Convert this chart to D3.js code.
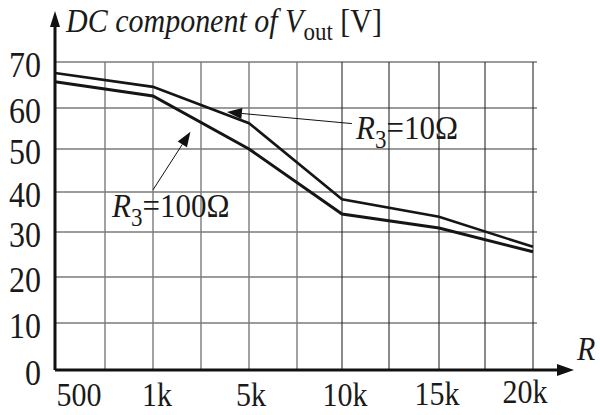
<!DOCTYPE html>
<html>
<head>
  <meta charset="utf-8">
  <script src="https://d3js.org/d3.v7.min.js"></script>
  <style>
    body { margin: 0; background: #fff; }
  </style>
</head>
<body>
  <svg width="600" height="415"></svg>

  <script>
    // x categories (resistance R) and their position on the grid (grid column index)
    var categories = ["500", "1k", "5k", "10k", "15k", "20k"];
    var catPos = [0, 2, 4, 6, 8, 10];

    // DC component of Vout [V]
    var r10 = [67.6, 64.6, 56.3, 38.2, 33.8, 26.7];   // R3 = 10 ohm
    var r100 = [65.7, 62.6, 50.0, 34.5, 31.0, 25.6];  // R3 = 100 ohm

    var yTicks = [0, 10, 20, 30, 40, 50, 60, 70];
    var gridCols = d3.range(0, 11);

    var svg = d3.select("svg");
    var stretch = 1.12; // the source font is a bit taller than wide
    var serif = "'Liberation Serif', 'Times New Roman', Times, 'DejaVu Serif', serif";

    // the hand drawn grid is not quite even, so the scales are piecewise
    var x = d3.scaleLinear()
      .domain(gridCols)
      .range([55, 105, 153, 201, 249, 297, 342, 389, 439, 485, 533]);
    var y = d3.scaleLinear()
      .domain(yTicks)
      .range([370, 323, 277, 232, 192, 149, 108, 62]);

    function stext(px, py, size) {
      return svg.append("text")
        .attr("transform", "translate(" + px + "," + py + ") scale(1," + stretch + ")")
        .attr("font-family", serif)
        .attr("fill", "#1a1a1a")
        .attr("font-size", size);
    }

    // grid
    svg.append("g").selectAll("line")
      .data(yTicks.slice(1))
      .enter().append("line")
      .attr("x1", x(0)).attr("x2", 537)
      .attr("y1", d => y(d)).attr("y2", d => y(d))
      .attr("stroke", "#7a7a7a").attr("stroke-width", 1.4);

    svg.append("g").selectAll("line")
      .data(gridCols.slice(1))
      .enter().append("line")
      .attr("x1", d => x(d)).attr("x2", d => x(d))
      .attr("y1", y(70)).attr("y2", y(0))
      .attr("stroke", d => d >= 6 ? "#2a2a2a" : "#7a7a7a")
      .attr("stroke-width", d => d >= 6 ? 1.1 : 1.4);

    // axes with arrows
    svg.append("line")
      .attr("x1", x(0)).attr("y1", y(0)).attr("x2", x(0)).attr("y2", 24)
      .attr("stroke", "#111").attr("stroke-width", 3);
    svg.append("path")
      .attr("d", "M" + x(0) + ",11 L" + (x(0) - 5) + ",27 L" + (x(0) + 5) + ",27 Z")
      .attr("fill", "#111");

    svg.append("line")
      .attr("x1", x(0)).attr("y1", y(0)).attr("x2", 560).attr("y2", y(0))
      .attr("stroke", "#111").attr("stroke-width", 3);
    svg.append("path")
      .attr("d", "M574," + y(0) + " L557," + (y(0) - 6) + " L557," + (y(0) + 6) + " Z")
      .attr("fill", "#111");

    // y tick labels
    yTicks.forEach(function(t) {
      stext(41, y(t) + 15, 32).attr("text-anchor", "end").text(t);
    });

    // x tick labels
    var labelShift = [24, 4, 2, 3, -2, -8];
    var labelDrop = [0, 0, 0, 0, -1, -3];
    categories.forEach(function(c, i) {
      stext(x(catPos[i]) + labelShift[i], 406 + labelDrop[i], 30).attr("text-anchor", "middle").text(c);
    });

    // axis titles
    stext(577, 360, 30).attr("font-style", "italic").text("R");

    var title = stext(66, 32, 30);
    title.append("tspan").attr("font-style", "italic").text("DC component of ");
    title.append("tspan").attr("font-style", "italic").text("V");
    title.append("tspan").attr("dy", 7).attr("font-size", 23).text("out");
    title.append("tspan").attr("dy", -7).text(" [V]");

    // curves
    var line = d3.line()
      .x((d, i) => x(catPos[i]))
      .y(d => y(d));

    svg.append("path")
      .datum(r10)
      .attr("d", line)
      .attr("fill", "none")
      .attr("stroke", "#151515")
      .attr("stroke-width", 2.6)
      .attr("stroke-linejoin", "miter");

    svg.append("path")
      .datum(r100)
      .attr("d", line)
      .attr("fill", "none")
      .attr("stroke", "#151515")
      .attr("stroke-width", 3)
      .attr("stroke-linejoin", "miter");

    // annotation arrows: [from, tip] in grid units
    function arrow(from, tip) {
      var x1 = x(from[0]), y1 = y(from[1]), x2 = x(tip[0]), y2 = y(tip[1]);
      var a = Math.atan2(y2 - y1, x2 - x1), len = 15, w = 5.5;
      var bx = x2 - len * Math.cos(a), by = y2 - len * Math.sin(a);
      svg.append("line")
        .attr("x1", x1).attr("y1", y1).attr("x2", bx).attr("y2", by)
        .attr("stroke", "#111").attr("stroke-width", 1);
      svg.append("path")
        .attr("d", "M" + x2 + "," + y2 +
          " L" + (bx + w * Math.sin(a)) + "," + (by - w * Math.cos(a)) +
          " L" + (bx - w * Math.sin(a)) + "," + (by + w * Math.cos(a)) + " Z")
        .attr("fill", "#111");
    }

    arrow([6.21, 56.2], [3.54, 59.0]);
    arrow([2.0, 40.5], [2.78, 54.2]);

    function rLabel(px, py, ohms) {
      var t = stext(px, py, 31);
      t.append("tspan").attr("font-style", "italic").text("R");
      t.append("tspan").attr("dy", 8).attr("font-size", 23).text("3");
      t.append("tspan").attr("dy", -8).text("=" + ohms + "\u03A9");
    }
    rLabel(x(6.3), y(57) + 19, 10);
    rLabel(112, y(40) + 25, 100);
  </script>
</body>
</html>
